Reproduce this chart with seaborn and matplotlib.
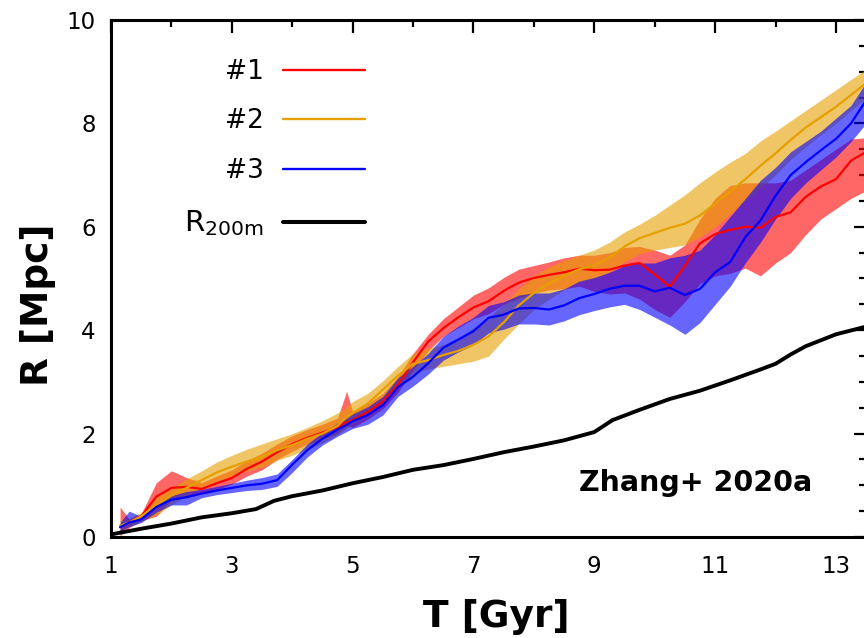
import matplotlib
matplotlib.use("Agg")
import matplotlib.pyplot as plt
from matplotlib.ticker import MultipleLocator
from matplotlib.lines import Line2D
import seaborn as sns

# Cosmic time grid (Gyr) shared by the three tracked objects
T = [1.15, 1.3, 1.5, 1.75, 2.0, 2.25, 2.5, 2.75, 3.0, 3.25, 3.5, 3.75, 4.0, 4.25,
     4.5, 4.75, 4.9, 5.0, 5.25, 5.5, 5.75, 6.0, 6.25, 6.5, 6.75, 7.0, 7.25, 7.5,
     7.75, 8.0, 8.25, 8.5, 8.75, 9.0, 9.25, 9.5, 9.75, 10.0, 10.25, 10.5, 10.75,
     11.0, 11.25, 11.5, 11.75, 12.0, 12.25, 12.5, 12.75, 13.0, 13.25, 13.5]

# #1 : median radius and spread (Mpc)
r1_mid = [0.19, 0.28, 0.40, 0.78, 0.95, 0.97, 0.93, 1.04, 1.14, 1.32, 1.46, 1.64, 1.80, 1.92,
          2.02, 2.12, 2.22, 2.26, 2.42, 2.62, 2.95, 3.38, 3.78, 4.04, 4.25, 4.44, 4.56, 4.76,
          4.92, 5.01, 5.07, 5.12, 5.19, 5.16, 5.17, 5.25, 5.30, 5.08, 4.84, 5.25, 5.68,
          5.86, 5.94, 6.00, 5.98, 6.19, 6.28, 6.58, 6.78, 6.92, 7.28, 7.45]
r1_lo = [0.02, 0.18, 0.32, 0.40, 0.72, 0.78, 0.85, 0.92, 1.02, 1.18, 1.30, 1.50, 1.66, 1.80,
         1.90, 2.00, 2.15, 2.12, 2.28, 2.48, 2.80, 3.22, 3.60, 3.88, 4.05, 4.22, 4.32, 4.50,
         4.62, 4.72, 4.78, 4.80, 4.85, 4.75, 4.70, 4.72, 4.60, 4.40, 4.25, 4.55, 4.90,
         5.05, 5.10, 5.20, 5.05, 5.30, 5.50, 5.85, 6.15, 6.35, 6.55, 6.70]
r1_hi = [0.58, 0.35, 0.45, 1.05, 1.28, 1.15, 1.05, 1.18, 1.30, 1.48, 1.62, 1.80, 1.96, 2.08,
         2.18, 2.30, 2.82, 2.42, 2.58, 2.78, 3.10, 3.55, 3.92, 4.22, 4.45, 4.68, 4.82, 5.02,
         5.18, 5.25, 5.32, 5.40, 5.45, 5.45, 5.50, 5.60, 5.62, 5.55, 5.45, 5.65, 6.15,
         6.55, 6.80, 6.85, 6.85, 6.85, 6.90, 7.10, 7.30, 7.50, 7.70, 7.72]

# #2
r2_mid = [0.22, 0.28, 0.40, 0.62, 0.80, 0.95, 1.10, 1.25, 1.36, 1.46, 1.55, 1.68, 1.78, 1.90,
          2.00, 2.15, 2.32, 2.40, 2.58, 2.85, 3.12, 3.35, 3.42, 3.52, 3.60, 3.72, 3.88, 4.15,
          4.48, 4.72, 4.90, 5.05, 5.18, 5.25, 5.40, 5.62, 5.78, 5.88, 5.98, 6.06, 6.22,
          6.45, 6.68, 6.92, 7.18, 7.42, 7.68, 7.92, 8.12, 8.32, 8.55, 8.78]
r2_lo = [0.12, 0.20, 0.30, 0.42, 0.62, 0.80, 0.95, 1.08, 1.18, 1.28, 1.35, 1.48, 1.58, 1.70,
         1.82, 1.98, 2.10, 2.20, 2.40, 2.65, 2.92, 3.15, 3.25, 3.30, 3.35, 3.40, 3.50, 3.82,
         4.12, 4.40, 4.60, 4.78, 4.92, 5.00, 5.12, 5.32, 5.48, 5.55, 5.60, 5.65, 5.80,
         6.00, 6.25, 6.50, 6.75, 7.00, 7.30, 7.55, 7.78, 8.00, 8.25, 8.50]
r2_hi = [0.35, 0.36, 0.48, 0.78, 0.95, 1.12, 1.28, 1.45, 1.58, 1.70, 1.80, 1.90, 2.00, 2.12,
         2.25, 2.40, 2.52, 2.62, 2.78, 3.02, 3.30, 3.55, 3.65, 3.72, 3.85, 4.05, 4.25, 4.50,
         4.80, 5.05, 5.22, 5.35, 5.45, 5.55, 5.70, 5.90, 6.05, 6.22, 6.42, 6.62, 6.85,
         7.06, 7.25, 7.42, 7.66, 7.85, 8.05, 8.25, 8.45, 8.65, 8.85, 9.05]

# #3
r3_mid = [0.19, 0.28, 0.34, 0.58, 0.72, 0.77, 0.84, 0.90, 0.95, 1.00, 1.03, 1.10, 1.40, 1.68,
          1.90, 2.08, 2.17, 2.24, 2.36, 2.55, 2.90, 3.10, 3.36, 3.66, 3.82, 3.98, 4.24, 4.30,
          4.42, 4.43, 4.40, 4.48, 4.62, 4.70, 4.80, 4.86, 4.86, 4.75, 4.82, 4.68, 4.80,
          5.12, 5.32, 5.80, 6.12, 6.60, 7.00, 7.25, 7.48, 7.70, 8.00, 8.45]
r3_lo = [0.12, 0.20, 0.28, 0.48, 0.62, 0.62, 0.76, 0.82, 0.86, 0.90, 0.92, 0.98, 1.25, 1.55,
         1.78, 1.95, 2.04, 2.10, 2.18, 2.36, 2.72, 2.92, 3.15, 3.42, 3.58, 3.72, 3.95, 4.02,
         4.12, 4.12, 4.10, 4.18, 4.30, 4.38, 4.45, 4.50, 4.40, 4.25, 4.10, 3.92, 4.15,
         4.50, 4.85, 5.30, 5.70, 6.15, 6.55, 6.85, 7.10, 7.35, 7.65, 8.00]
r3_hi = [0.28, 0.50, 0.40, 0.66, 0.80, 0.88, 0.92, 0.98, 1.04, 1.10, 1.15, 1.22, 1.50, 1.80,
         2.02, 2.20, 2.30, 2.38, 2.52, 2.72, 3.08, 3.30, 3.55, 3.88, 4.08, 4.25, 4.48, 4.55,
         4.68, 4.72, 4.72, 4.80, 4.95, 5.02, 5.12, 5.25, 5.30, 5.30, 5.40, 5.45, 5.55,
         5.85, 6.20, 6.55, 6.90, 7.15, 7.45, 7.65, 7.85, 8.10, 8.35, 8.80]

# Host halo R200m
T_r200 = [1.0, 1.5, 2.0, 2.5, 3.0, 3.4, 3.7, 4.0, 4.5, 5.0, 5.5, 6.0, 6.5, 7.0, 7.5,
          8.0, 8.5, 9.0, 9.3, 9.75, 10.25, 10.75, 11.25, 11.75, 12.0, 12.25, 12.5, 13.0, 13.5]
r200m = [0.05, 0.16, 0.26, 0.38, 0.46, 0.54, 0.70, 0.79, 0.90, 1.04, 1.16, 1.30, 1.39, 1.51,
         1.64, 1.75, 1.87, 2.03, 2.26, 2.46, 2.67, 2.83, 3.03, 3.24, 3.35, 3.53, 3.69, 3.92, 4.07]

labels = ["#1", "#2", "#3"]
colors = ["#ff0000", "#e69f00", "#0000ff"]
series = [(r1_mid, r1_lo, r1_hi), (r2_mid, r2_lo, r2_hi), (r3_mid, r3_lo, r3_hi)]

sns.set_theme(style="white")
plt.rcParams["font.family"] = ["DejaVu Sans"]
plt.rcParams.update({"text.color": "black", "axes.labelcolor": "black",
                     "xtick.color": "black", "ytick.color": "black"})

fig = plt.figure(figsize=(8.64, 6.38), dpi=100)
ax = fig.add_axes([0.1285, 0.1583, 0.874, 0.8104])

for (mid, lo, hi), c, lab in zip(series, colors, labels):
    ax.fill_between(T, lo, hi, color=c, alpha=0.6, linewidth=0)
    sns.lineplot(x=T, y=mid, color=c, linewidth=1.6, ax=ax, legend=False)

sns.lineplot(x=T_r200, y=r200m, color="black", linewidth=2.8, ax=ax, legend=False)

ax.set_xlim(1, 13.5)
ax.set_ylim(0, 10)
ax.xaxis.set_major_locator(MultipleLocator(2, offset=1))
ax.xaxis.set_minor_locator(MultipleLocator(1))
ax.yaxis.set_major_locator(MultipleLocator(2))
ax.yaxis.set_minor_locator(MultipleLocator(0.5))
ax.tick_params(which="both", direction="in", top=True, right=True, width=1.6,
               colors="black")
ax.tick_params(which="major", length=9, labelsize=16.5)
ax.tick_params(which="minor", length=5)
ax.tick_params(axis="x", which="major", pad=13)
ax.tick_params(axis="y", which="major", pad=11)
for sp in ax.spines.values():
    sp.set_linewidth(2.2)
    sp.set_color("black")

bold = dict(family=["DejaVu Sans"], weight="bold", size=27)
ax.set_xlabel("T [Gyr]", **bold, va="center")
ax.set_ylabel("R [Mpc]", **bold, va="center", ha="center")
ax.xaxis.set_label_coords(0.51, -0.155)
ax.yaxis.set_label_coords(-0.097, 0.45)

ax.text(10.68, 1.04, "Zhang+ 2020a", ha="center", va="center",
        family=["DejaVu Sans"], weight="bold", size=20.5)

handles = [Line2D([], [], color=c, lw=1.7) for c in colors]
handles.append(Line2D([], [], color="black", lw=2.9))
leg = ax.legend(handles, labels + [r"R$_{\mathrm{200m}}$"], loc="upper right",
                bbox_to_anchor=(0.3366, 0.925), frameon=False, markerfirst=False,
                fontsize=19, handlelength=3.1, handletextpad=0.75, labelspacing=0.9,
                borderpad=0, borderaxespad=0)
leg.get_texts()[3].set_fontsize(21)

fig.savefig("out.png", dpi=100)
